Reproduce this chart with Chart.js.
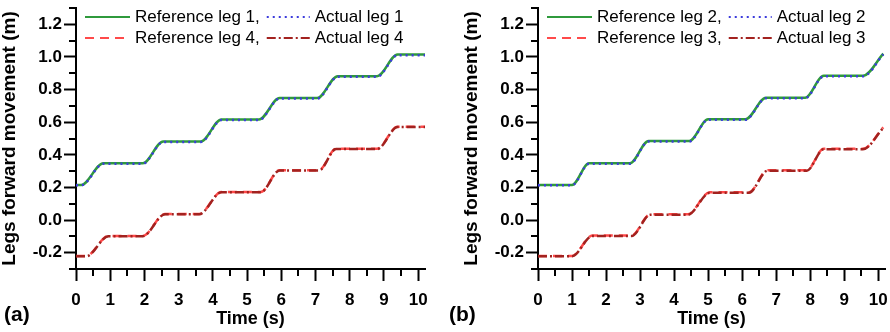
<!DOCTYPE html>
<html>
<head>
<meta charset="utf-8">
<script src="https://cdn.jsdelivr.net/npm/chart.js@4.4.0/dist/chart.umd.min.js"></script>
<style>
body{margin:0;background:#fff;}
#wrap{position:relative;width:890px;height:332px;}
.panel{position:absolute;top:0;width:445px;height:332px;}
</style>
</head>
<body>
<div id="wrap">
  <div class="panel" style="left:0"><canvas id="chartA" width="445" height="332"></canvas></div>
  <div class="panel" style="left:445px"><canvas id="chartB" width="445" height="332"></canvas></div>
</div>
<script>
// ticks
var xTickVals = [0, 1, 2, 3, 4, 5, 6, 7, 8, 9, 10];
var xMinorVals = [0.5, 1.5, 2.5, 3.5, 4.5, 5.5, 6.5, 7.5, 8.5, 9.5];
var yTickVals = [-0.2, 0, 0.2, 0.4, 0.6, 0.8, 1.0, 1.2];
var yMinorVals = [-0.3, -0.1, 0.1, 0.3, 0.5, 0.7, 0.9, 1.1, 1.3];

// panel (a) - legs 1 and 4
var tLeg1 = [0, 0.15, 0.8, 1.95, 2.55, 3.65, 4.25, 5.35, 5.95, 7.05, 7.65, 8.8, 9.4, 10.2];
var refLeg1 = [0.215, 0.215, 0.348, 0.348, 0.482, 0.482, 0.617, 0.617, 0.748, 0.748, 0.882, 0.882, 1.015, 1.015];
var actLeg1 = [0.213, 0.213, 0.345, 0.345, 0.479, 0.479, 0.613, 0.613, 0.745, 0.745, 0.878, 0.878, 1.011, 1.011];
var tLeg4 = [0, 0.3, 0.95, 1.95, 2.6, 3.6, 4.25, 5.4, 5.95, 7.1, 7.6, 8.8, 9.4, 10.2];
var refLeg4 = [-0.22, -0.22, -0.097, -0.097, 0.037, 0.037, 0.172, 0.172, 0.306, 0.306, 0.437, 0.437, 0.572, 0.572];
var actLeg4 = [-0.222, -0.222, -0.099, -0.099, 0.035, 0.035, 0.170, 0.170, 0.304, 0.304, 0.435, 0.435, 0.570, 0.570];

// panel (b) - legs 2 and 3
var tLeg2 = [0, 1.0, 1.5, 2.7, 3.25, 4.45, 5.0, 6.1, 6.7, 7.85, 8.4, 9.55, 10.15];
var refLeg2 = [0.215, 0.215, 0.348, 0.348, 0.485, 0.485, 0.618, 0.618, 0.75, 0.75, 0.884, 0.884, 1.02];
var actLeg2 = [0.213, 0.213, 0.345, 0.345, 0.482, 0.482, 0.615, 0.615, 0.747, 0.747, 0.881, 0.881, 1.016];
var tLeg3 = [0, 1.0, 1.6, 2.75, 3.3, 4.4, 5.05, 6.2, 6.75, 7.9, 8.4, 9.55, 10.15];
var refLeg3 = [-0.22, -0.22, -0.095, -0.095, 0.035, 0.035, 0.17, 0.17, 0.306, 0.306, 0.437, 0.437, 0.568];
var actLeg3 = [-0.222, -0.222, -0.098, -0.098, 0.032, 0.032, 0.167, 0.167, 0.303, 0.303, 0.434, 0.434, 0.565];

var FONT = '"Liberation Sans", Arial, sans-serif';
var GREEN = '#2f9a3c', BLUE = '#3c3cdc', RED = '#ff4a4a', DARKRED = '#a3221f';

function pts(t, v) {
  return t.map(function(x, i) { return {x: x, y: v[i]}; });
}

function line(label, t, v, color, dash, order) {
  return {
    label: label, data: pts(t, v), borderColor: color, backgroundColor: color,
    borderWidth: 2.5, borderDash: dash, pointRadius: 0, fill: false,
    cubicInterpolationMode: 'monotone', order: order
  };
}

// minor ticks, two-row legend and panel tag
function decor(tag) {
  return {
    id: 'decor',
    afterDraw: function(chart) {
      var ctx = chart.ctx, a = chart.chartArea;
      var xs = chart.scales.x, ys = chart.scales.y;
      ctx.save();
      ctx.strokeStyle = '#000';
      ctx.lineWidth = 2;
      ctx.setLineDash([]);
      ctx.beginPath();
      xMinorVals.forEach(function(v) {
        var px = Math.round(xs.getPixelForValue(v));
        ctx.moveTo(px, a.bottom); ctx.lineTo(px, a.bottom + 7);
      });
      yMinorVals.forEach(function(v) {
        var py = Math.round(ys.getPixelForValue(v));
        ctx.moveTo(a.left, py); ctx.lineTo(a.left - 7, py);
      });
      ctx.stroke();

      // legend: ref, act on each row
      var ds = chart.data.datasets;
      ctx.font = '17px ' + FONT;
      ctx.textBaseline = 'middle';
      ctx.textAlign = 'left';
      ctx.fillStyle = '#000';
      var rows = [[0, 1], [2, 3]];
      var w1 = Math.max(ctx.measureText(ds[0].label).width, ctx.measureText(ds[2].label).width);
      rows.forEach(function(r, k) {
        var y = a.top + 9 + k * 21;
        var x = a.left + 9;
        [r[0], r[1]].forEach(function(idx, j) {
          var d = ds[idx];
          var len = j === 0 ? 45 : 43;
          ctx.strokeStyle = d.borderColor;
          ctx.lineWidth = 2;
          ctx.setLineDash(d.borderDash);
          ctx.beginPath();
          ctx.moveTo(x, y); ctx.lineTo(x + len, y);
          ctx.stroke();
          ctx.setLineDash([]);
          ctx.fillText(d.label, x + len + 5, y);
          x = x + len + 5 + w1 + 7;
        });
      });

      ctx.font = 'bold 21px ' + FONT;
      ctx.fillText(tag, 4, 315);
      ctx.restore();
    }
  };
}

function makeChart(id, tag, padLeft, padRight, datasets) {
  var ctx = document.getElementById(id).getContext('2d');
  return new Chart(ctx, {
    type: 'line',
    data: {datasets: datasets},
    options: {
      responsive: false,
      animation: false,
      layout: {padding: {left: padLeft, right: padRight, top: 8, bottom: 0}},
      plugins: {legend: {display: false}, tooltip: {enabled: false}},
      scales: {
        x: {
          type: 'linear', min: 0, max: 10.2,
          afterBuildTicks: function(s) { s.ticks = xTickVals.map(function(v) { return {value: v}; }); },
          afterFit: function(s) { s.height = 63; s.paddingLeft = 0; s.paddingRight = 0; },
          border: {display: true, color: '#000', width: 2},
          grid: {drawOnChartArea: false, drawTicks: true, tickLength: 12, tickWidth: 2, tickColor: '#000'},
          ticks: {color: '#000', padding: 9, maxRotation: 0, autoSkip: false,
            font: {family: FONT, size: 17, weight: 'bold'},
            callback: function(v) { return String(v); }},
          title: {display: true, text: 'Time (s)', color: '#000', padding: {top: 0, bottom: 4},
            font: {family: FONT, size: 18, weight: 'bold', lineHeight: 1}}
        },
        y: {
          min: -0.3, max: 1.3,
          afterBuildTicks: function(s) { s.ticks = yTickVals.map(function(v) { return {value: v}; }); },
          afterFit: function(s) { s.width = 76; s.paddingTop = 0; s.paddingBottom = 0; },
          border: {display: true, color: '#000', width: 2},
          grid: {drawOnChartArea: false, drawTicks: true, tickLength: 12, tickWidth: 2, tickColor: '#000'},
          ticks: {color: '#000', padding: 2, autoSkip: false,
            font: {family: FONT, size: 17, weight: 'bold'},
            callback: function(v) { return Number(v).toFixed(1); }},
          title: {display: true, text: 'Legs forward movement (m)', color: '#000', padding: {top: 0, bottom: 0},
            font: {family: FONT, size: 19, weight: 'bold', lineHeight: 1}}
        }
      }
    },
    plugins: [decor(tag)]
  });
}

makeChart('chartA', '(a)', 0, 20, [
  line('Reference leg 1,', tLeg1, refLeg1, GREEN, [], 2),
  line('Actual leg 1', tLeg1, actLeg1, BLUE, [2, 4], 1),
  line('Reference leg 4,', tLeg4, refLeg4, RED, [9, 6], 2),
  line('Actual leg 4', tLeg4, actLeg4, DARKRED, [9, 3, 2, 3], 1)
]);

makeChart('chartB', '(b)', 17, 5, [
  line('Reference leg 2,', tLeg2, refLeg2, GREEN, [], 2),
  line('Actual leg 2', tLeg2, actLeg2, BLUE, [2, 4], 1),
  line('Reference leg 3,', tLeg3, refLeg3, RED, [9, 6], 2),
  line('Actual leg 3', tLeg3, actLeg3, DARKRED, [9, 3, 2, 3], 1)
]);
</script>
</body>
</html>
